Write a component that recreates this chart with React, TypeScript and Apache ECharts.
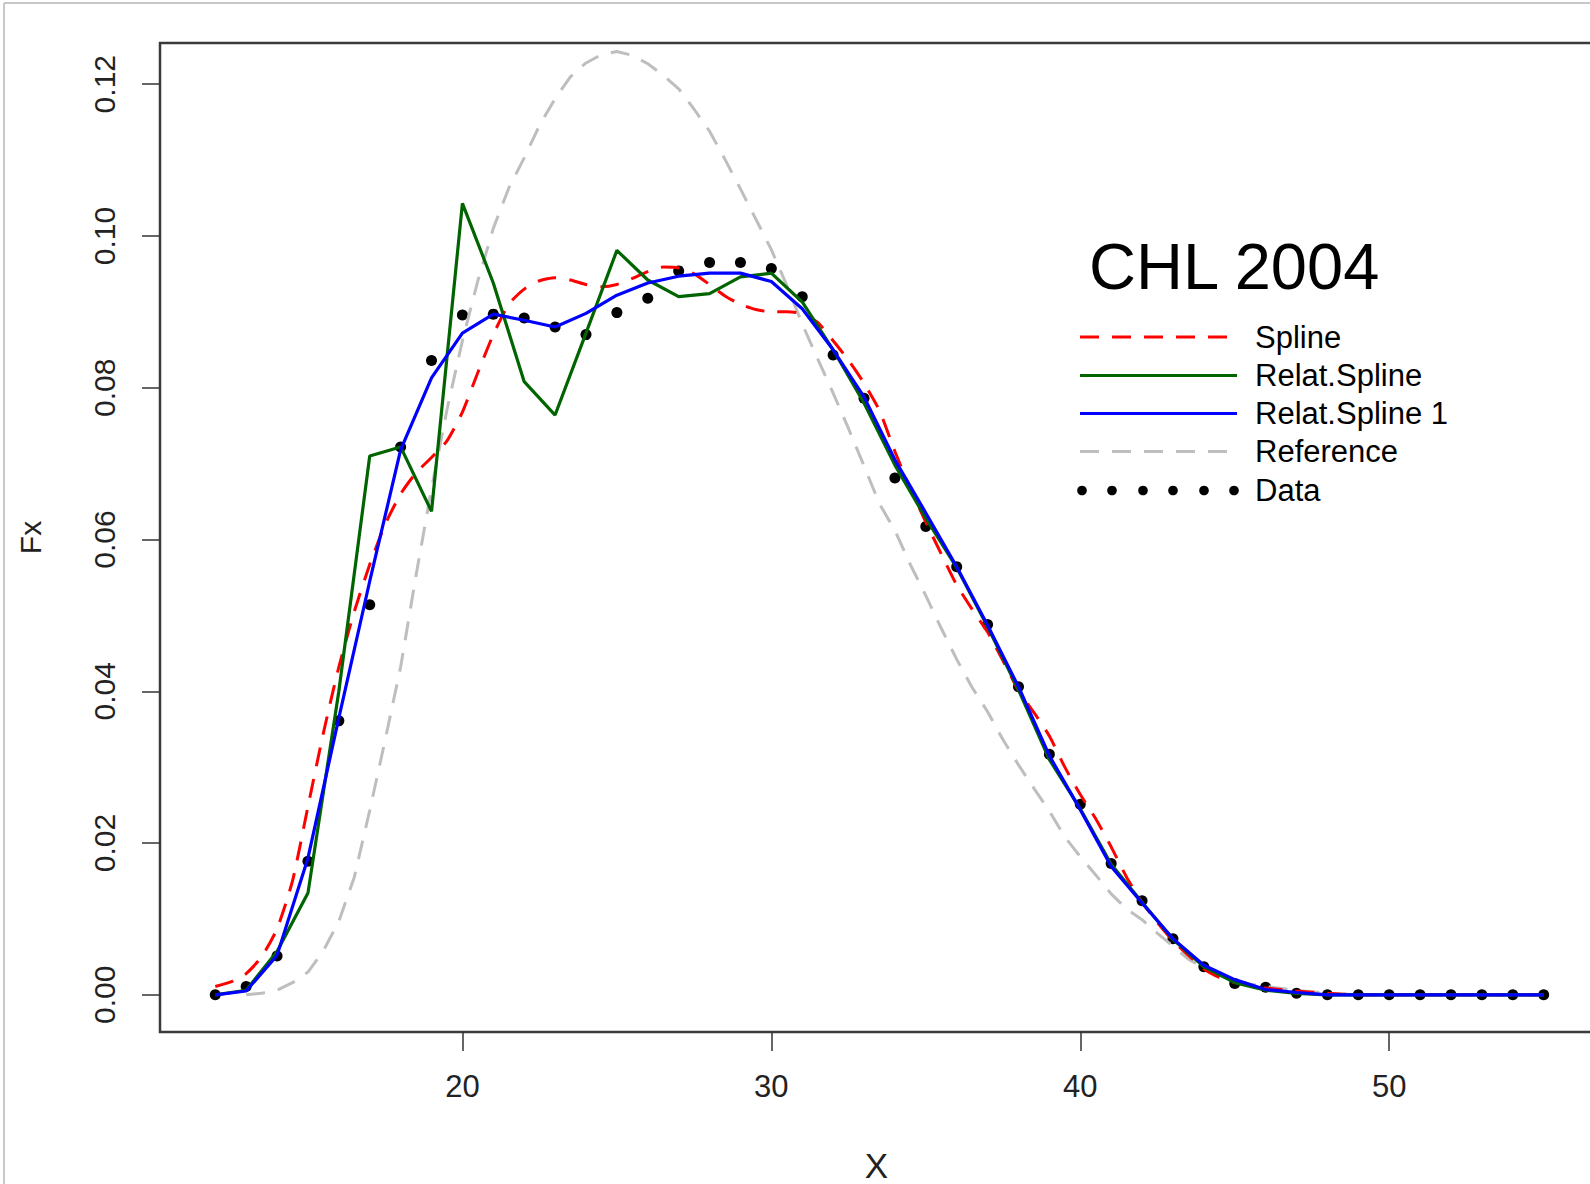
import React, { useEffect, useRef } from "react";
import * as echarts from "echarts";

// ---------- data ----------
const xTicks = [20, 30, 40, 50];
const yTicks = [0, 0.02, 0.04, 0.06, 0.08, 0.1, 0.12];

const titleText = "CHL 2004";
const legendLabels = ["Spline", "Relat.Spline", "Relat.Spline 1", "Reference", "Data"];

const dataX = [12, 13, 14, 15, 16, 17, 18, 19, 20, 21, 22, 23, 24, 25, 26, 27, 28, 29, 30, 31, 32, 33, 34, 35, 36, 37, 38, 39, 40, 41, 42, 43, 44, 45, 46, 47, 48, 49, 50, 51, 52, 53, 54, 55];
const dataY = [0.0, 0.0011, 0.0051, 0.0176, 0.0361, 0.0514, 0.0722, 0.0836, 0.0896, 0.0897, 0.0892, 0.088, 0.087, 0.0899, 0.0918, 0.0954, 0.0965, 0.0965, 0.0957, 0.092, 0.0843, 0.0786, 0.0681, 0.0617, 0.0564, 0.0488, 0.0406, 0.0317, 0.0251, 0.0173, 0.0124, 0.0074, 0.0037, 0.0015, 0.001, 0.0002, 0, 0, 0, 0, 0, 0, 0, 0];

const relatSplineY = [0.0, 0.0006, 0.0057, 0.0134, 0.04, 0.071, 0.0722, 0.0637, 0.1043, 0.0938, 0.0808, 0.0764, 0.0872, 0.0981, 0.0942, 0.092, 0.0924, 0.0946, 0.0951, 0.0913, 0.085, 0.078, 0.0698, 0.0628, 0.0563, 0.0485, 0.0402, 0.031, 0.0245, 0.0172, 0.0122, 0.0073, 0.0037, 0.0016, 0.0006, 0.0002, 0, 0, 0, 0, 0, 0, 0, 0];

const relatSpline1Y = [0.0, 0.0005, 0.0052, 0.018, 0.0365, 0.0545, 0.0718, 0.0813, 0.0872, 0.0897, 0.0889, 0.088, 0.0898, 0.0922, 0.0938, 0.0947, 0.0951, 0.0951, 0.094, 0.0904, 0.085, 0.0788, 0.0705, 0.0635, 0.0564, 0.0487, 0.0406, 0.0315, 0.0244, 0.0169, 0.0121, 0.0074, 0.0039, 0.002, 0.0007, 0.0003, 0, 0, 0, 0, 0, 0, 0, 0];

const splineX = [12, 12.5, 13, 13.5, 14, 14.5, 15, 15.5, 16, 16.5, 17, 17.5, 18, 18.5, 19, 19.5, 20, 20.5, 21, 21.5, 22, 22.5, 23, 23.5, 24, 24.5, 25, 25.5, 26, 26.5, 27, 27.5, 28, 28.5, 29, 29.5, 30, 30.5, 31, 31.5, 32, 32.5, 33, 33.5, 34, 34.5, 35, 35.5, 36, 36.5, 37, 37.5, 38, 38.5, 39, 39.5, 40, 40.5, 41, 41.5, 42, 42.5, 43, 43.5, 44, 44.5, 45, 45.5, 46, 47, 48, 49, 50, 51, 52, 53, 54, 55];
const splineY = [0.0011, 0.0017, 0.0028, 0.005, 0.0087, 0.015, 0.0248, 0.0345, 0.0432, 0.0505, 0.0567, 0.062, 0.066, 0.0688, 0.0708, 0.073, 0.0768, 0.082, 0.087, 0.091, 0.093, 0.0941, 0.0945, 0.0942, 0.0936, 0.0933, 0.0936, 0.0944, 0.0953, 0.0959, 0.0958, 0.095, 0.0936, 0.0921, 0.091, 0.0903, 0.09, 0.09, 0.0898, 0.0886, 0.0862, 0.0836, 0.0806, 0.077, 0.0716, 0.0667, 0.0623, 0.0581, 0.054, 0.0508, 0.0478, 0.044, 0.0401, 0.0372, 0.0341, 0.03, 0.0264, 0.0232, 0.0195, 0.0155, 0.0122, 0.0095, 0.0071, 0.0052, 0.0034, 0.0023, 0.0016, 0.0012, 0.0009, 0.0005, 0.0002, 0, 0, 0, 0, 0, 0, 0];

const referenceX = [13, 13.5, 14, 14.5, 15, 15.5, 16, 16.5, 17, 17.5, 18, 18.5, 19, 19.5, 20, 20.5, 21, 21.5, 22, 22.5, 23, 23.5, 24, 24.5, 25, 25.5, 26, 26.5, 27, 27.5, 28, 28.5, 29, 29.5, 30, 30.5, 31, 31.5, 32, 32.5, 33, 33.5, 34, 34.5, 35, 35.5, 36, 36.5, 37, 37.5, 38, 38.5, 39, 39.5, 40, 40.5, 41, 41.5, 42, 42.5, 43, 43.5, 44, 44.5, 45, 45.5, 46, 47, 48, 49, 50, 51, 52, 53, 54, 55];
const referenceY = [0.0, 0.0002, 0.0006, 0.0016, 0.003, 0.0058, 0.0097, 0.0155, 0.0243, 0.0336, 0.0432, 0.0553, 0.0667, 0.0771, 0.0862, 0.0941, 0.101, 0.1063, 0.1103, 0.1146, 0.1181, 0.121, 0.1228, 0.1239, 0.1243, 0.1238, 0.1227, 0.1212, 0.1194, 0.1167, 0.1138, 0.1101, 0.1062, 0.1022, 0.0982, 0.0935, 0.0884, 0.0838, 0.0793, 0.0746, 0.0697, 0.0647, 0.0612, 0.0567, 0.0526, 0.0483, 0.0442, 0.0405, 0.0373, 0.0336, 0.0303, 0.0272, 0.0242, 0.0208, 0.0182, 0.0158, 0.0133, 0.0113, 0.0099, 0.0081, 0.0064, 0.0047, 0.0035, 0.0026, 0.0019, 0.0014, 0.0011, 0.0006, 0.0002, 0, 0, 0, 0, 0, 0, 0];

// ---------- helpers ----------
const zip = (xs: number[], ys: number[]) => xs.map((x, i) => [x, ys[i]]);

const FONT = '"Liberation Sans", Arial, Helvetica, sans-serif';

export default function App() {
  const ref = useRef<HTMLDivElement | null>(null);

  useEffect(() => {
    if (!ref.current) return;
    const chart = echarts.init(ref.current, undefined, { renderer: "svg" });

    const legX1 = 1080;
    const legX2 = 1237;
    const legY = [337, 375.5, 413.5, 451.5, 490.5];
    const legTextX = 1255;
    const dotXs = [1082, 1112, 1143, 1173, 1204, 1234];

    const legendGraphics: any[] = [
      { type: "line", shape: { x1: legX1, y1: legY[0], x2: legX2, y2: legY[0] }, style: { stroke: "#ff0000", lineWidth: 3, lineDash: [19, 13] } },
      { type: "line", shape: { x1: legX1, y1: legY[1], x2: legX2, y2: legY[1] }, style: { stroke: "#006400", lineWidth: 3.2 } },
      { type: "line", shape: { x1: legX1, y1: legY[2], x2: legX2, y2: legY[2] }, style: { stroke: "#0000ff", lineWidth: 3.2 } },
      { type: "line", shape: { x1: legX1, y1: legY[3], x2: legX2, y2: legY[3] }, style: { stroke: "#bebebe", lineWidth: 3, lineDash: [19, 13] } },
      ...dotXs.map((cx) => ({ type: "circle", shape: { cx, cy: legY[4], r: 4.8 }, style: { fill: "#000" } })),
      ...legendLabels.map((t, i) => ({
        type: "text",
        x: legTextX,
        y: legY[i],
        style: { text: t, fill: "#000", fontSize: 31, fontFamily: FONT, align: "left", verticalAlign: "middle", textAlign: "left", textVerticalAlign: "middle" },
      })),
      {
        type: "text",
        x: 1089,
        y: 266,
        style: { text: titleText, fill: "#000", fontSize: 65, fontFamily: FONT, align: "left", verticalAlign: "middle", textAlign: "left", textVerticalAlign: "middle" },
      },
      // window frame
      { type: "line", shape: { x1: 4, y1: 3, x2: 1590, y2: 3 }, style: { stroke: "#c8c8c8", lineWidth: 2 } },
      { type: "line", shape: { x1: 4, y1: 3, x2: 4, y2: 1184 }, style: { stroke: "#c8c8c8", lineWidth: 2 } },
    ];

    const option: any = {
      animation: false,
      backgroundColor: "#ffffff",
      grid: {
        left: 160,
        top: 43,
        right: -3,
        bottom: 152,
        show: true,
        containLabel: false,
        outerBoundsMode: "none",
        borderColor: "#3a3a3a",
        borderWidth: 2.5,
        backgroundColor: "transparent",
      },
      xAxis: {
        type: "value",
        min: 10.211,
        max: 56.597,
        axisLine: { show: false, onZero: false },
        splitLine: { show: false },
        axisTick: { show: true, length: 19, inside: false, customValues: xTicks, lineStyle: { color: "#333", width: 1.5 } },
        axisLabel: { customValues: xTicks, margin: 39, fontSize: 31, fontFamily: FONT, color: "#222", formatter: (v: number) => String(v) },
        name: "X",
        nameLocation: "middle",
        nameGap: 133,
        nameTextStyle: { fontSize: 35, lineHeight: 30, fontFamily: FONT, color: "#222", verticalAlign: "middle" },
      },
      yAxis: {
        type: "value",
        min: -0.004902,
        max: 0.12543,
        axisLine: { show: false, onZero: false },
        splitLine: { show: false },
        axisTick: { show: true, length: 18, inside: false, customValues: yTicks, lineStyle: { color: "#333", width: 1.5 } },
        axisLabel: { customValues: yTicks, rotate: 90, margin: 41, fontSize: 30, fontFamily: FONT, color: "#222", formatter: (v: number) => v.toFixed(2) },
        name: "Fx",
        nameLocation: "middle",
        nameGap: 130,
        nameRotate: 90,
        nameTextStyle: { fontSize: 30, fontFamily: FONT, color: "#222", verticalAlign: "middle" },
      },
      series: [
        {
          name: "Reference",
          type: "line",
          data: zip(referenceX, referenceY),
          showSymbol: false,
          lineStyle: { color: "#bebebe", width: 3, type: [19, 13] },
        },
        {
          name: "Data",
          type: "scatter",
          data: zip(dataX, dataY),
          symbolSize: 11,
          itemStyle: { color: "#000", opacity: 1 },
        },
        {
          name: "Spline",
          type: "line",
          data: zip(splineX, splineY),
          showSymbol: false,
          smooth: 0.2,
          lineStyle: { color: "#ff0000", width: 3, type: [19, 13] },
        },
        {
          name: "Relat.Spline",
          type: "line",
          data: zip(dataX, relatSplineY),
          showSymbol: false,
          lineStyle: { color: "#006400", width: 3.2 },
        },
        {
          name: "Relat.Spline 1",
          type: "line",
          data: zip(dataX, relatSpline1Y),
          showSymbol: false,
          lineStyle: { color: "#0000ff", width: 3.2 },
        },
      ],
      graphic: legendGraphics,
    };

    chart.setOption(option);
    return () => chart.dispose();
  }, []);

  return (
    <div
      ref={ref}
      style={{ position: "absolute", left: 0, top: 0, width: 1590, height: 1184, background: "#fff" }}
    />
  );
}
